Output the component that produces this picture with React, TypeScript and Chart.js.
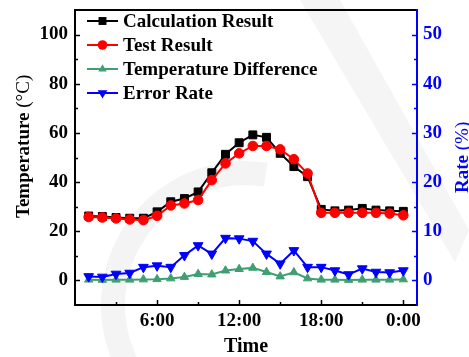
import React, { useEffect, useRef } from "react";
import { Chart, registerables } from "chart.js";

Chart.register(...registerables);

// Hourly samples over one day
const hours = [1, 2, 3, 4, 5, 6, 7, 8, 9, 10, 11, 12, 13, 14, 15, 16, 17, 18, 19, 20, 21, 22, 23, 24];
const calculationResult = [26.2, 26.0, 25.6, 25.3, 25.3, 27.9, 32.0, 33.3, 36.0, 43.8, 51.3, 56.0, 59.2, 58.2, 51.7, 46.3, 42.2, 28.9, 28.3, 28.6, 29.3, 28.6, 28.3, 28.1];
const testResult = [25.8, 25.6, 25.2, 24.8, 24.5, 26.3, 30.5, 31.3, 32.7, 40.8, 47.6, 51.7, 54.7, 54.7, 53.3, 49.3, 43.5, 27.5, 27.5, 27.5, 27.5, 27.5, 27.2, 26.5];
const temperatureDifference = [0.3, 0.2, 0.3, 0.3, 0.4, 0.5, 0.8, 1.4, 2.6, 2.4, 4.0, 4.6, 5.1, 3.4, 1.6, 3.3, 0.8, 0.3, 0.3, 0.2, 0.3, 0.3, 0.3, 0.4];
const errorRate = [0.8, 0.7, 1.3, 1.5, 2.7, 3.0, 2.7, 5.1, 7.1, 5.4, 8.6, 8.5, 8.0, 5.4, 3.4, 6.1, 2.7, 2.7, 2.0, 1.2, 2.4, 1.7, 1.6, 2.0];

const timeTicks = [6, 12, 18, 24];
const timeTickLabels = ["6:00", "12:00", "18:00", "0:00"];
const temperatureTicks = [0, 20, 40, 60, 80, 100];
const rateTicks = [0, 10, 20, 30, 40, 50];

const SERIF = '"Liberation Serif", "Times New Roman", serif';
const BLUE = "#0000ff";
const GREEN = "#3f9f72";

// Faint background emblem
const backdropPlugin = {
  id: "backdrop",
  beforeDraw(chart: any) {
    const ctx = chart.ctx;
    ctx.save();
    ctx.fillStyle = "#ffffff";
    ctx.fillRect(0, 0, chart.width, chart.height);
    ctx.strokeStyle = "#f4f4f4";
    ctx.lineWidth = 24;
    ctx.beginPath();
    ctx.arc(245, 305, 132, Math.PI * 0.85, Math.PI * 1.55);
    ctx.stroke();
    ctx.fillStyle = "#f5f5f5";
    ctx.beginPath();
    ctx.moveTo(300, 0);
    ctx.lineTo(340, 0);
    ctx.lineTo(469, 230);
    ctx.lineTo(455, 262);
    ctx.closePath();
    ctx.fill();
    ctx.restore();
  },
};

// Legend marker shapes matching the dataset point styles
function drawMarker(ctx: CanvasRenderingContext2D, style: string, r: number, rotation: number, cx: number, cy: number) {
  ctx.beginPath();
  if (style === "rect") {
    const s = r * Math.SQRT1_2;
    ctx.rect(cx - s, cy - s, 2 * s, 2 * s);
  } else if (style === "circle") {
    ctx.arc(cx, cy, r, 0, Math.PI * 2);
  } else {
    const rad = (rotation * Math.PI) / 180;
    for (let k = 0; k < 3; k++) {
      const a = rad + (k * 2 * Math.PI) / 3;
      const px = cx + Math.sin(a) * r;
      const py = cy - Math.cos(a) * r;
      if (k === 0) ctx.moveTo(px, py);
      else ctx.lineTo(px, py);
    }
    ctx.closePath();
  }
  ctx.fill();
}

// Frame, inward tick marks, axis titles and legend
const decorPlugin = {
  id: "decor",
  afterDraw(chart: any) {
    const ctx = chart.ctx;
    const { left, right, top, bottom } = chart.chartArea;
    const x = chart.scales.x;
    const y = chart.scales.y;
    const y1 = chart.scales.y1;
    ctx.save();
    ctx.lineCap = "butt";

    // ticks
    ctx.lineWidth = 1.5;
    ctx.strokeStyle = "#000";
    for (let v = 3; v <= 24; v += 3) {
      const px = Math.round(x.getPixelForValue(v)) + 0.5;
      const len = v % 6 === 0 ? 5 : 3;
      ctx.beginPath();
      ctx.moveTo(px, bottom);
      ctx.lineTo(px, bottom - len);
      ctx.stroke();
    }
    for (let v = 0; v <= 100; v += 10) {
      const py = Math.round(y.getPixelForValue(v)) + 0.5;
      const len = v % 20 === 0 ? 5 : 3;
      ctx.beginPath();
      ctx.moveTo(left, py);
      ctx.lineTo(left + len, py);
      ctx.stroke();
    }
    ctx.strokeStyle = BLUE;
    for (let v = 0; v <= 50; v += 5) {
      const py = Math.round(y1.getPixelForValue(v)) + 0.5;
      const len = v % 10 === 0 ? 5 : 3;
      ctx.beginPath();
      ctx.moveTo(right, py);
      ctx.lineTo(right - len, py);
      ctx.stroke();
    }

    // frame
    ctx.lineWidth = 2;
    ctx.strokeStyle = "#000";
    ctx.beginPath();
    ctx.moveTo(right, top);
    ctx.lineTo(left, top);
    ctx.lineTo(left, bottom);
    ctx.lineTo(right, bottom);
    ctx.stroke();
    ctx.strokeStyle = BLUE;
    ctx.beginPath();
    ctx.moveTo(right, top - 1);
    ctx.lineTo(right, bottom + 1);
    ctx.stroke();

    // axis titles
    ctx.textBaseline = "alphabetic";
    ctx.fillStyle = "#000";
    ctx.textAlign = "center";
    ctx.font = `bold 20px ${SERIF}`;
    ctx.fillText("Time", (left + right) / 2, 352);

    const drawRotated = (px: number, py: number, parts: [string, string][], color: string) => {
      ctx.save();
      ctx.translate(px, py);
      ctx.rotate(-Math.PI / 2);
      ctx.textAlign = "left";
      ctx.fillStyle = color;
      let cx = 0;
      for (const [txt, font] of parts) {
        ctx.font = font;
        ctx.fillText(txt, cx, 0);
        cx += ctx.measureText(txt).width;
      }
      ctx.restore();
    };
    drawRotated(29, 218, [["Temperature ", `bold 19px ${SERIF}`], ["(°C)", `19px ${SERIF}`]], "#000");
    drawRotated(468, 193, [["Rate ", `bold 19px ${SERIF}`], ["(%)", `19px ${SERIF}`]], BLUE);

    // legend
    const rows = [21, 45, 69, 93];
    chart.data.datasets.forEach((ds: any, i: number) => {
      const ly = rows[i];
      ctx.strokeStyle = ds.borderColor;
      ctx.lineWidth = 2;
      ctx.beginPath();
      ctx.moveTo(87, ly);
      ctx.lineTo(118, ly);
      ctx.stroke();
      ctx.fillStyle = ds.borderColor;
      drawMarker(ctx, ds.pointStyle, ds.pointRadius, ds.pointRotation || 0, 102.5, ly);
      ctx.fillStyle = "#000";
      ctx.font = `bold 19px ${SERIF}`;
      ctx.textAlign = "left";
      ctx.textBaseline = "middle";
      ctx.fillText(ds.label, 123, ly + 1);
    });
    ctx.restore();
  },
};

export default function App() {
  const canvasRef = useRef<HTMLCanvasElement | null>(null);

  useEffect(() => {
    const canvas = canvasRef.current;
    if (!canvas) return;
    const series = (label: string, values: number[], color: string, style: string, radius: number, axis: string, order: number, rotation = 0) => ({
      label,
      data: hours.map((h, i) => ({ x: h, y: values[i] })),
      borderColor: color,
      backgroundColor: color,
      pointBackgroundColor: color,
      pointBorderColor: color,
      borderWidth: 2,
      pointStyle: style,
      pointRadius: radius,
      pointRotation: rotation,
      pointBorderWidth: 1,
      yAxisID: axis,
      order,
      tension: 0,
    });

    const noPad = (s: any) => {
      s.paddingTop = 0;
      s.paddingBottom = 0;
      s.paddingLeft = 0;
      s.paddingRight = 0;
    };

    const chart = new Chart(canvas, {
      type: "line",
      data: {
        datasets: [
          series("Calculation Result", calculationResult, "#000000", "rect", 5.6, "y", 4),
          series("Test Result", testResult, "#ff0000", "circle", 4.8, "y", 3),
          series("Temperature Difference", temperatureDifference, GREEN, "triangle", 4.8, "y", 2),
          series("Error Rate", errorRate, BLUE, "triangle", 5.6, "y1", 1, 180),
        ] as any,
      },
      options: {
        responsive: false,
        animation: false,
        devicePixelRatio: 1,
        layout: { padding: { top: 10, left: 0, right: 0, bottom: 0 } },
        plugins: { legend: { display: false }, tooltip: { enabled: false } },
        scales: {
          x: {
            type: "linear",
            min: 0,
            max: 25,
            grid: { display: false, drawTicks: false },
            border: { display: false },
            afterBuildTicks: (s: any) => {
              s.ticks = timeTicks.map((v) => ({ value: v }));
            },
            afterFit: (s: any) => {
              s.height = 52;
              noPad(s);
            },
            ticks: {
              autoSkip: false,
              maxRotation: 0,
              padding: 5,
              color: "#000",
              font: { family: SERIF, size: 19, weight: "bold" },
              callback: (v: any) => {
                const i = timeTicks.indexOf(Number(v));
                return i >= 0 ? timeTickLabels[i] : "";
              },
            },
          },
          y: {
            type: "linear",
            position: "left",
            min: -10,
            max: 110,
            grid: { display: false, drawTicks: false },
            border: { display: false },
            afterBuildTicks: (s: any) => {
              s.ticks = temperatureTicks.map((v) => ({ value: v }));
            },
            afterFit: (s: any) => {
              s.width = 75;
              noPad(s);
            },
            ticks: {
              padding: 7,
              color: "#000",
              font: { family: SERIF, size: 19, weight: "bold" },
            },
          },
          y1: {
            type: "linear",
            position: "right",
            min: -5,
            max: 55,
            grid: { display: false, drawTicks: false },
            border: { display: false },
            afterBuildTicks: (s: any) => {
              s.ticks = rateTicks.map((v) => ({ value: v }));
            },
            afterFit: (s: any) => {
              s.width = 52;
              noPad(s);
            },
            ticks: {
              padding: 6,
              color: BLUE,
              font: { family: SERIF, size: 19, weight: "bold" },
            },
          },
        },
      } as any,
      plugins: [backdropPlugin, decorPlugin],
    });
    return () => chart.destroy();
  }, []);

  return (
    <div style={{ position: "absolute", left: 0, top: 0, width: 469, height: 357, overflow: "hidden", background: "#fff" }}>
      <canvas ref={canvasRef} width={469} height={357} style={{ width: 469, height: 357, display: "block" }} />
    </div>
  );
}
